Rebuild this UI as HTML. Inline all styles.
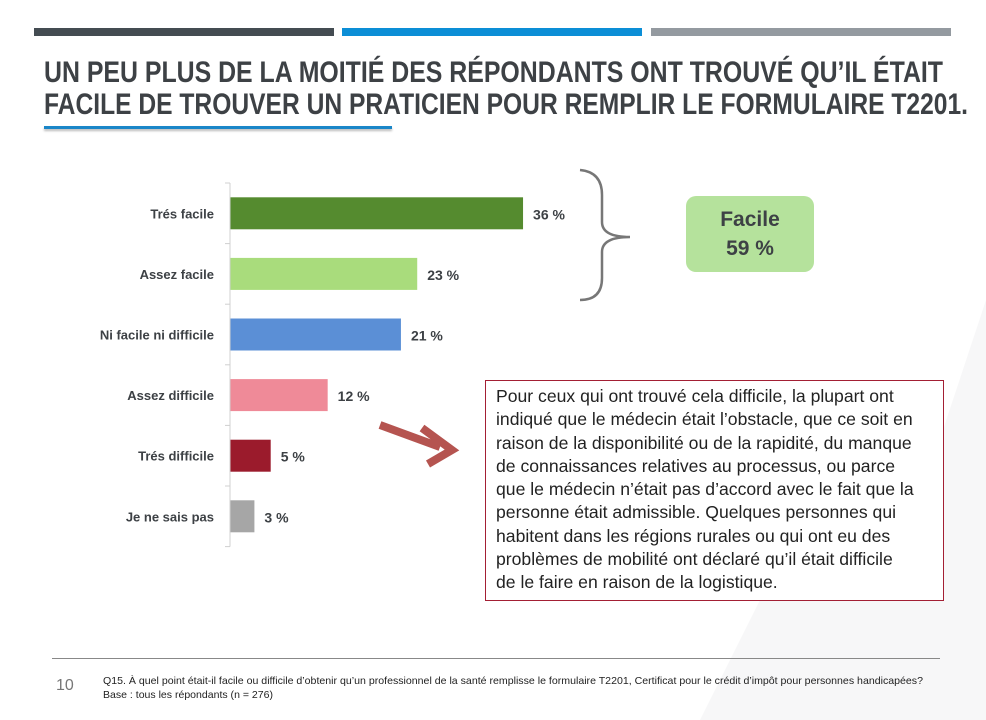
<!DOCTYPE html>
<html><head><meta charset="utf-8"><style>
body{margin:0;width:986px;height:720px;background:#fff;position:relative;overflow:hidden;font-family:"Liberation Sans",sans-serif}
.abs{position:absolute}
.note{left:485px;top:380px;width:459px;height:221px;box-sizing:border-box;padding:4px 10px;border:1px solid #a31f34;font-size:17.6px;line-height:23.3px;color:#222;background:#fff;white-space:nowrap}
</style></head><body>
<svg class="abs" style="left:0;top:0" width="986" height="720">
<polygon points="986,300 900,560 760,600 700,720 986,720" fill="#f7f7f8"/>
</svg>
<div class="abs" style="left:34px;top:28px;width:300px;height:8px;background:#444c52"></div>
<div class="abs" style="left:342px;top:28px;width:300px;height:8px;background:#0c8ed6"></div>
<div class="abs" style="left:651px;top:28px;width:300px;height:8px;background:#949aa0"></div>
<svg class="abs" style="left:0;top:0" width="986" height="140">
<text x="44" y="82" textLength="899" lengthAdjust="spacingAndGlyphs" font-family="Liberation Sans, sans-serif" font-weight="bold" font-size="30" fill="#3d4145">UN PEU PLUS DE LA MOITIÉ DES RÉPONDANTS ONT TROUVÉ QU’IL ÉTAIT</text>
<text x="44" y="114" textLength="924" lengthAdjust="spacingAndGlyphs" font-family="Liberation Sans, sans-serif" font-weight="bold" font-size="30" fill="#3d4145">FACILE DE TROUVER UN PRATICIEN POUR REMPLIR LE FORMULAIRE T2201.</text>
</svg>
<div class="abs" style="left:44px;top:126px;width:348px;height:3px;background:#1a86c8;box-shadow:0 2px 2px #bbb"></div>

<svg class="abs" id="chart" style="left:0;top:0" width="986" height="720"></svg>

<div class="abs" style="left:686px;top:196px;width:128px;height:76px;background:#b5e29c;border-radius:10px;text-align:center;font-weight:bold;font-size:21px;line-height:29px;color:#3d4145;padding-top:9px;box-sizing:border-box">Facile<br>59 %</div>

<div class="abs note">Pour ceux qui ont trouvé cela difficile, la plupart ont<br>indiqué que le médecin était l’obstacle, que ce soit en<br>raison de la disponibilité ou de la rapidité, du manque<br>de connaissances relatives au processus, ou parce<br>que le médecin n’était pas d’accord avec le fait que la<br>personne était admissible. Quelques personnes qui<br>habitent dans les régions rurales ou qui ont eu des<br>problèmes de mobilité ont déclaré qu’il était difficile<br>de le faire en raison de la logistique.</div>

<div class="abs" style="left:52px;top:658px;width:888px;height:1px;background:#888"></div>
<div class="abs" style="left:56px;top:677px;font-size:16px;color:#777">10</div>
<svg class="abs" style="left:0;top:665px" width="986" height="40">
<text x="103" y="19" textLength="820" lengthAdjust="spacingAndGlyphs" font-family="Liberation Sans, sans-serif" font-size="10.5" fill="#222">Q15. À quel point était-il facile ou difficile d’obtenir qu’un professionnel de la santé remplisse le formulaire T2201, Certificat pour le crédit d’impôt pour personnes handicapées?</text>
<text x="103" y="33" textLength="170" lengthAdjust="spacingAndGlyphs" font-family="Liberation Sans, sans-serif" font-size="10.5" fill="#222">Base : tous les répondants (n = 276)</text>
</svg>

<script>
const categories=["Trés facile","Assez facile","Ni facile ni difficile","Assez difficile","Trés difficile","Je ne sais pas"];
const values=[36,23,21,12,5,3];
const colors=["#558b2f","#a9dc7c","#5b8fd6","#ef8a98","#9b1b2c","#a6a6a6"];
const NS="http://www.w3.org/2000/svg";
const svg=document.getElementById("chart");
const x0=230,pxPer=8.14,yTop=183,rowH=60.6,barH=32;
const xs=v=>x0+v*pxPer;
const yc=i=>yTop+rowH*(i+0.5);
function mk(t,a){const e=document.createElementNS(NS,t);for(const k in a)e.setAttribute(k,a[k]);svg.appendChild(e);return e;}
categories.forEach((c,i)=>{
  const r=mk("rect",{x:x0,y:yc(i)-barH/2,width:xs(values[i])-x0,height:barH,fill:colors[i]});
  
  
  const l=mk("text",{x:214,y:yc(i)+5,"text-anchor":"end","font-size":"13","font-weight":"bold",fill:"#3d4145","font-family":"Liberation Sans, sans-serif"});
  l.textContent=c;
  
  
  const v=mk("text",{x:xs(values[i])+10,y:yc(i)+6,"font-size":"14","font-weight":"bold",fill:"#3d4145","font-family":"Liberation Sans, sans-serif"});
  v.textContent=values[i]+" %";
  
  
});
const ax=mk("line",{x1:x0,y1:yTop,x2:x0,y2:yTop+rowH*6,stroke:"#d0d0d0","stroke-width":1});


for(let i=0;i<=6;i++){const t=mk("line",{x1:x0-5,y1:yTop+rowH*i,x2:x0,y2:yTop+rowH*i,stroke:"#d0d0d0"});

}
const br=mk("path",{d:"M580,170 Q602,172 602,195 L602,222 Q602,237 630,237 Q602,237 602,252 L602,278 Q602,300 580,300",fill:"none",stroke:"#777","stroke-width":2.5});


const ar=mk("path",{d:"M380,425 L440,447 M422,428 L452,450 L428,464",fill:"none",stroke:"#b55450","stroke-width":8,"stroke-linejoin":"miter"});


</script>
</body></html>
